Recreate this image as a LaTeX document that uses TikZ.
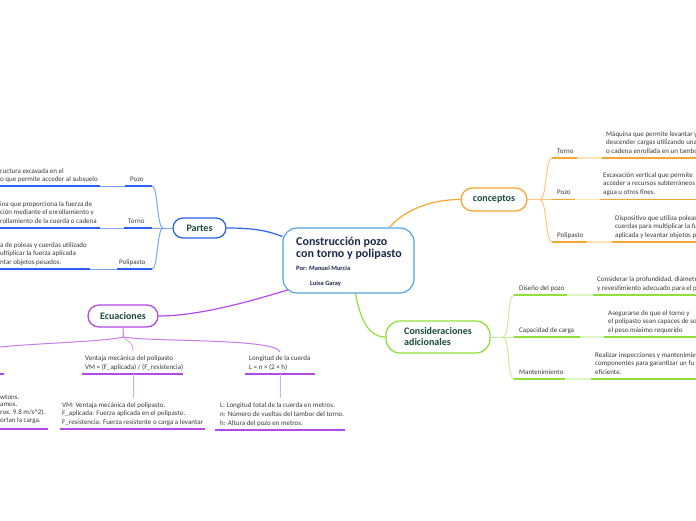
\documentclass[tikz,border=0pt]{standalone}
\usepackage{fontspec}
\setmainfont{Carlito}
\usetikzlibrary{calc}
\pgfdeclarelayer{bg}
\pgfsetlayers{bg,main}
\definecolor{blueA}{HTML}{2B63F0}
\definecolor{blueL}{HTML}{7FA3F5}
\definecolor{orA}{HTML}{F7A633}
\definecolor{orL}{HTML}{FDE3B6}
\definecolor{orC}{HTML}{FBC97E}
\definecolor{grA}{HTML}{8FE03A}
\definecolor{grL}{HTML}{DDF6C3}
\definecolor{grC}{HTML}{C4EF98}
\definecolor{puA}{HTML}{B548E6}
\definecolor{puL}{HTML}{DDA8F3}
\definecolor{puC}{HTML}{C77BEB}
\definecolor{ctrB}{HTML}{56A4DF}
\definecolor{ttlC}{HTML}{1C2A4C}
\definecolor{nodeT}{HTML}{1A4A3C}
\definecolor{txtC}{HTML}{3A3A3A}
\tikzset{
  desc/.style={font=\fontsize{7}{8.6}\selectfont, text=txtC, inner sep=0pt, align=left, anchor=north west},
  lbl/.style={font=\fontsize{7}{8.6}\selectfont, text=txtC, inner sep=0pt, anchor=base west},
  topic/.style={draw, line width=1.3pt, fill=white, rounded corners=#1, font=\fontsize{10}{11}\selectfont\bfseries, text=nodeT, inner sep=0pt, align=left},
  uline/.style={line width=1.8pt},
  conn/.style={line width=1pt},
  mainconn/.style={line width=1.2pt},
  ttl/.style={font=\fontsize{12}{12}\selectfont\bfseries, text=ttlC, anchor=base west, inner sep=0pt},
  auth/.style={font=\fontsize{6.5}{7}\selectfont\bfseries, text=ttlC, anchor=base west, inner sep=0pt}
}
\begin{document}
\begin{tikzpicture}[x=1pt,y=-1pt]
\useasboundingbox (0,0) rectangle (696,520);

% ---------- central node
\node[draw=ctrB, line width=1.2pt, fill=white, rounded corners=14pt, minimum width=131pt, minimum height=65pt, inner sep=0pt] (ctr) at (348.5,260.5) {};
\node[ttl] (t1) at (296,245) {Construcción pozo};
\node[ttl] (t2) at (296,257) {con torno y polipasto};
\node[auth] (a1) at (296,270.5) {Por: Manuel Murcia};
\node[auth] (a2) at (310,285) {Luisa Garay};

% ---------- main topics
\node[topic=10pt, draw=blueA, minimum width=53pt, minimum height=20pt] (part) at (199.5,228) {Partes};
\node[topic=11.5pt, draw=orA, minimum width=66pt, minimum height=23pt] (conc) at (494,199.5) {conceptos};
\node[topic=11pt, draw=puA, minimum width=70pt, minimum height=22pt] (ecu) at (123,316) {Ecuaciones};
\node[topic=14pt, draw=grA, minimum width=104pt, minimum height=32pt] (cons) at (438,337) {Consideraciones\\adicionales};

\begin{pgfonlayer}{bg}
\draw[blueA, mainconn] (part.east) .. controls (255,228) and (268,231) .. (ctr.160);
\draw[orA, mainconn] (ctr.39) .. controls (405,210) and (430,199.5) .. (conc.west);
\draw[grA, mainconn] (ctr.-78) .. controls (360,318) and (368,337) .. (cons.west);
\draw[puA, mainconn] ($(ctr.center)!0.9!(ctr.-154)$) .. controls (255,300) and (200,316) .. (ecu.east);
\end{pgfonlayer}

% ---------- Partes branches (blue)
\coordinate (j1) at (163,228);
\draw[blueL, conn] (j1) -- (part.west);
% Pozo
\node[lbl] (ppz) at (130,181.5) {Pozo};
\node[desc] (ppzd) at (0,168) {ructura excavada en el\\o que permite acceder al subsuelo};
\coordinate (ppze) at (152,186);
\draw[blueA, uline] (125,186) -- (ppze);
\draw[blueL, conn] (100,186) -- (125,186);
\draw[blueA, uline] (0,186) -- (100,186);
\draw[blueL, conn] (ppze) .. controls (158,186) and (157,228) .. (j1);
% Torno
\node[lbl] (pto) at (128,223.5) {Torno};
\node[desc] (ptod) at (0,201.3) {ina que proporciona la fuerza de\\ción mediante el enrollamiento y\\rollamiento de la cuerda o cadena};
\coordinate (ptoe) at (152,228);
\draw[blueA, uline] (124,228) -- (ptoe);
\draw[blueL, conn] (100,228) -- (124,228);
\draw[blueA, uline] (0,228) -- (100,228);
\draw[blueL, conn] (ptoe) -- (j1);
% Polipasto
\node[lbl] (ppo) at (119,264.5) {Polipasto};
\node[desc] (ppod) at (0,242.3) {a de poleas y cuerdas utilizado\\ultiplicar la fuerza aplicada\\ntar objetos pesados.};
\coordinate (ppoe) at (152,269);
\draw[blueA, uline] (117,269) -- (ppoe);
\draw[blueL, conn] (90,269) -- (117,269);
\draw[blueA, uline] (0,269) -- (90,269);
\draw[blueL, conn] (ppoe) .. controls (158,269) and (157,228) .. (j1);

% ---------- conceptos branches (orange)
\coordinate (j2) at (540,199.5);
\draw[orC, conn] (conc.east) -- (j2);
% Torno
\node[lbl] (cto) at (557,153.5) {Torno};
\node[desc] (ctod) at (606,131.3) {Máquina que permite levantar y\\descender cargas utilizando una\\o cadena enrollada en un tambo};
\coordinate (ctos) at (552,158);
\draw[orA, uline] (ctos) -- (577,158);
\draw[orL, uline] (577,158) -- (602,158);
\draw[orA, uline] (602,158) -- (696,158);
\draw[orC, conn] (j2) .. controls (547,199.5) and (545,158) .. (ctos);
% Pozo
\node[lbl] (cpz) at (557,194.5) {Pozo};
\node[desc] (cpzd) at (603,172.3) {Excavación vertical que permite\\acceder a recursos subterráneos\\agua u otros fines.};
\coordinate (cpzs) at (552,199.5);
\draw[orA, uline] (cpzs) -- (575,199.5);
\draw[orL, uline] (575,199.5) -- (600,199.5);
\draw[orA, uline] (600,199.5) -- (696,199.5);
\draw[orC, conn] (j2) -- (cpzs);
% Polipasto
\node[lbl] (cpo) at (557,237.5) {Polipasto};
\node[desc] (cpod) at (615,215.3) {Dispositivo que utiliza poleas\\cuerdas para multiplicar la fu\\aplicada y levantar objetos pe};
\coordinate (cpos) at (552,242);
\draw[orA, uline] (cpos) -- (587,242);
\draw[orL, uline] (587,242) -- (612,242);
\draw[orA, uline] (612,242) -- (696,242);
\draw[orC, conn] (j2) .. controls (547,199.5) and (545,242) .. (cpos);

% ---------- Consideraciones branches (green)
\coordinate (j3) at (503,337);
\draw[grC, conn] (cons.east) -- (j3);
% Diseno
\node[lbl] (gdi) at (519,290.5) {Diseño del pozo};
\node[desc] (gdid) at (597,276.9) {Considerar la profundidad, diámetr\\y revestimiento adecuado para el p};
\coordinate (gdis) at (514,295);
\draw[grA, uline] (gdis) -- (567,295);
\draw[grL, uline] (567,295) -- (593,295);
\draw[grA, uline] (593,295) -- (696,295);
\draw[grC, conn] (j3) .. controls (510,337) and (507,295) .. (gdis);
% Capacidad
\node[lbl] (gca) at (519,332.5) {Capacidad de carga};
\node[desc] (gcad) at (608,310.3) {Asegurarse de que el torno y\\el polipasto sean capaces de so\\el peso máximo requerido};
\coordinate (gcas) at (514,337);
\draw[grA, uline] (gcas) -- (580,337);
\draw[grL, uline] (580,337) -- (604,337);
\draw[grA, uline] (604,337) -- (696,337);
\draw[grC, conn] (j3) -- (gcas);
% Mantenimiento
\node[lbl] (gma) at (519,374.5) {Mantenimiento};
\node[desc] (gmad) at (595,352.3) {Realizar inspecciones y mantenimie\\componentes para garantizar un fu\\eficiente.};
\coordinate (gmas) at (514,379);
\draw[grA, uline] (gmas) -- (565,379);
\draw[grL, uline] (565,379) -- (591,379);
\draw[grA, uline] (591,379) -- (696,379);
\draw[grC, conn] (j3) .. controls (510,337) and (507,379) .. (gmas);

% ---------- Ecuaciones branches (purple)
\coordinate (j4) at (123.5,337);
\draw[puC, conn] (ecu.south) -- (j4);
\coordinate (eleft) at (0,347);
\coordinate (emid) at (133,351);
\coordinate (eright) at (280,352);
\draw[puC, conn] (j4) .. controls (100,342) and (40,343) .. (eleft);
\draw[puL, conn] (j4) .. controls (128,342) and (133,342) .. (emid);
\draw[puC, conn] (j4) .. controls (150,342) and (276,338) .. (eright);
% left (cut off)
\draw[puA, uline] (0,374) -- (4,374);
\node[desc, font=\fontsize{7}{7.8}\selectfont] (eld) at (0,394.5) {wtons.\\amos.\\rox. 9.8 m/s\textasciicircum 2).\\ortan la carga.};
\draw[puA, uline] (0,429) -- (48,429);
% Ventaja mecanica
\node[desc] (evm) at (85,355.9) {Ventaja mecánica del polipasto\\VM = (F\_aplicada) / (F\_resistencia)};
\draw[puA, uline] (82,374) -- (183,374);
\draw[puL, conn] (133,374) -- (133,398);
\node[desc] (evmd) at (62,402.3) {VM: Ventaja mecánica del polipasto.\\F\_aplicada: Fuerza aplicada en el polipasto.\\F\_resistencia: Fuerza resistente o carga a levantar};
\draw[puA, uline] (60,429) -- (205,429);
% Longitud
\node[desc] (elo) at (249,355.9) {Longitud de la cuerda\\L = n × (2 × h)};
\draw[puA, uline] (245,374) -- (315,374);
\draw[puL, conn] (280,374) -- (280,398);
\node[desc] (elod) at (220,402.8) {L: Longitud total de la cuerda en metros.\\n: Número de vueltas del tambor del torno.\\h: Altura del pozo en metros.};
\draw[puA, uline] (215,430) -- (345,430);
\end{tikzpicture}
\end{document}
